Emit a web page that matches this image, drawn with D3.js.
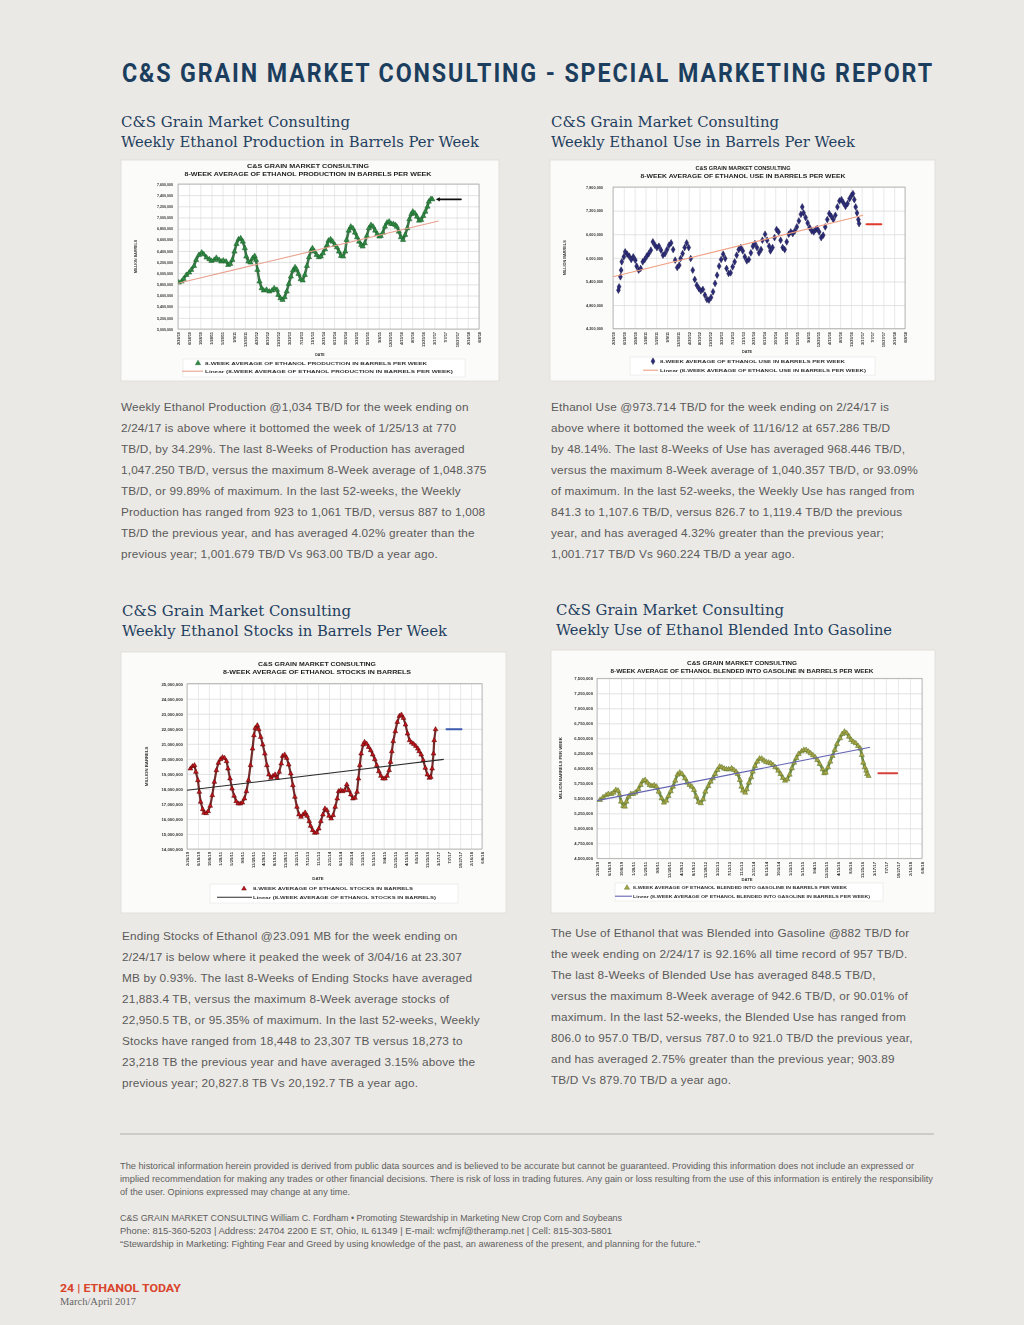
<!DOCTYPE html>
<html><head><meta charset="utf-8">
<script src="https://cdn.jsdelivr.net/npm/d3@7"></script>
<style>
html,body{margin:0;padding:0;background:#ebe9e5;}
svg{display:block;}
</style></head><body>
<svg id="page" width="1024" height="1325"></svg>
<script>
// ---------------- DATA ----------------
const xTickLabels = ["2/26/10","6/18/10","10/8/10","1/28/11","5/20/11","9/9/11","12/30/11","4/20/12","8/10/12","11/30/12","3/22/13","7/12/13","11/1/13","2/21/14","6/13/14","10/3/14","1/23/15","5/15/15","9/4/15","12/25/15","4/15/16","8/5/16","11/25/16","3/17/17","7/7/17","10/27/17","2/16/18","6/8/18"];
const weeksPerLabel = 16;

// [week index from 2/26/10, thousand barrels]
const productionK = [[1,5833],[5,5851],[8,5899],[12,5970],[16,6012],[19,6060],[23,6131],[26,6239],[30,6328],[34,6370],[37,6340],[41,6281],[45,6251],[48,6221],[52,6239],[55,6275],[59,6239],[62,6209],[65,6227],[69,6209],[72,6149],[75,6167],[78,6239],[81,6388],[84,6525],[87,6609],[90,6627],[93,6567],[96,6448],[98,6299],[101,6209],[104,6191],[107,6269],[110,6310],[112,6239],[114,6060],[117,5851],[120,5731],[123,5690],[127,5702],[131,5672],[135,5690],[138,5731],[142,5702],[144,5612],[147,5552],[150,5522],[153,5570],[156,5672],[159,5809],[162,5940],[165,6048],[168,6107],[170,6072],[173,5988],[176,5893],[179,5869],[182,5970],[185,6131],[188,6287],[191,6406],[193,6448],[196,6388],[199,6328],[202,6287],[205,6299],[208,6358],[211,6430],[214,6507],[216,6585],[219,6609],[222,6567],[225,6507],[228,6466],[231,6388],[234,6310],[237,6299],[240,6388],[242,6597],[245,6764],[248,6836],[251,6806],[254,6728],[257,6645],[260,6567],[263,6507],[265,6478],[268,6537],[271,6669],[274,6806],[277,6866],[280,6836],[283,6764],[286,6704],[289,6657],[291,6669],[294,6728],[297,6836],[300,6907],[303,6925],[306,6884],[309,6884],[312,6866],[314,6836],[317,6746],[320,6645],[323,6597],[326,6687],[329,6806],[332,6967],[335,7063],[337,7104],[340,7075],[343,7015],[346,6943],[349,6955],[352,7027],[355,7104],[358,7194],[360,7284],[363,7331],[365,7325]];
const productionTrendK = [[0,5821],[374,6937]];
const productionArrow = [370,406,7325];
const productionYTicks = [5000,5200,5400,5600,5800,6000,6200,6400,6600,6800,7000,7200,7400,7600];

const useK = [[8,5180],[9,5265],[11,5518],[12,5687],[13,5899],[16,6025],[18,6152],[21,6093],[24,6042],[27,5958],[30,6025],[33,5941],[35,5789],[38,5687],[41,5730],[44,5899],[47,5958],[50,6042],[53,6110],[56,6194],[59,6406],[62,6321],[65,6262],[68,6296],[71,6194],[74,6068],[77,6110],[80,6211],[83,6321],[86,6380],[89,6211],[92,5941],[95,5755],[98,5814],[100,5983],[103,6110],[106,6262],[109,6380],[112,6262],[115,5983],[118,5687],[121,5451],[124,5307],[127,5222],[130,5163],[133,5197],[136,5053],[139,4944],[142,4927],[145,4994],[148,5138],[151,5349],[154,5560],[157,5789],[160,5958],[163,6093],[166,5983],[168,5730],[171,5603],[174,5620],[177,5772],[180,5899],[183,6068],[186,6211],[189,6262],[192,6177],[195,6025],[198,5924],[201,5958],[204,6127],[207,6296],[210,6363],[213,6262],[216,6127],[219,6211],[221,6448],[225,6600],[228,6448],[231,6296],[233,6177],[236,6262],[239,6515],[242,6718],[245,6659],[248,6448],[251,6262],[254,6211],[257,6406],[260,6600],[263,6659],[266,6617],[269,6684],[272,6786],[275,6938],[278,7107],[280,7293],[282,7141],[285,7023],[288,6887],[291,6769],[294,6684],[297,6659],[300,6718],[302,6744],[305,6659],[308,6515],[311,6575],[314,6786],[317,6972],[320,7124],[323,7056],[326,6972],[329,7082],[332,7293],[335,7445],[338,7479],[341,7394],[344,7310],[347,7378],[350,7504],[353,7589],[355,7631],[357,7479],[359,7293],[361,7141],[363,6972],[364,6870]];
const useTrendK = [[0,5518],[370,7082]];
const useArrow = [375,397,6854];
const useYTicks = [4200,4800,5400,6000,6600,7200,7800];

const stocksK = [[5,19347],[8,19502],[11,19568],[13,19125],[16,18571],[18,17795],[20,17130],[23,16642],[25,16398],[28,16376],[31,16509],[34,16864],[37,17573],[40,18460],[43,19236],[46,19724],[49,19967],[52,20100],[55,20056],[58,19834],[60,19347],[63,18682],[66,18016],[69,17529],[72,17174],[75,17019],[78,17019],[81,17085],[84,17351],[87,17839],[90,18571],[93,19568],[96,20677],[98,21564],[100,22051],[103,22229],[105,21963],[108,21453],[111,20943],[114,20344],[117,19568],[120,18948],[123,18726],[126,18859],[129,18948],[132,18726],[135,19125],[138,19679],[140,20189],[143,20278],[146,20056],[149,19613],[152,19014],[155,18238],[158,17462],[161,16797],[164,16287],[167,16132],[170,16287],[173,16420],[176,16199],[179,15844],[181,15533],[184,15245],[187,15068],[190,15090],[193,15356],[196,15844],[199,16287],[202,16686],[205,16575],[208,16199],[211,16021],[214,16243],[217,16797],[220,17351],[222,17839],[225,17907],[228,17839],[231,17907],[234,18283],[237,17907],[240,17617],[243,17351],[246,17396],[249,17795],[251,18682],[253,19568],[255,20344],[258,20943],[260,21120],[263,21009],[266,20788],[269,20566],[272,20278],[275,19967],[278,19568],[281,19169],[284,18859],[287,18682],[290,18682],[293,18859],[296,19236],[298,19790],[300,20499],[302,21165],[305,21830],[308,22450],[311,22850],[314,22938],[317,22716],[320,22273],[323,21674],[326,21231],[329,21076],[332,20987],[335,20854],[338,20677],[340,20499],[343,20278],[346,19901],[349,19391],[352,18948],[355,18726],[357,18792],[359,19347],[361,20344],[362,21231],[364,21963]];
const stocksTrendK = [[0,17906],[376,19967]];
const stocksArrow = [380,402,21963];
const stocksYTicks = [14000,15000,16000,17000,18000,19000,20000,21000,22000,23000,24000,25000];

const blendK = [[4,5472],[8,5517],[12,5550],[15,5572],[19,5572],[22,5594],[25,5639],[28,5628],[30,5555],[32,5444],[35,5372],[37,5361],[39,5444],[42,5528],[45,5572],[48,5572],[51,5594],[55,5650],[58,5722],[61,5789],[64,5805],[67,5761],[70,5722],[73,5705],[76,5716],[79,5694],[82,5611],[86,5500],[89,5428],[92,5461],[95,5539],[98,5617],[101,5694],[104,5794],[107,5894],[110,5928],[113,5906],[117,5833],[120,5761],[123,5722],[126,5694],[129,5639],[132,5528],[135,5439],[138,5417],[141,5483],[144,5611],[148,5705],[151,5778],[154,5833],[157,5906],[160,5972],[163,6028],[166,6017],[169,5994],[172,5983],[175,5983],[179,6000],[182,5972],[185,5939],[187,5905],[190,5805],[192,5694],[194,5628],[197,5594],[199,5650],[202,5761],[205,5850],[207,5944],[210,6039],[213,6111],[216,6161],[219,6161],[222,6128],[225,6105],[228,6094],[231,6083],[234,6055],[237,6017],[241,5961],[244,5906],[247,5839],[250,5794],[253,5817],[256,5894],[259,6000],[262,6094],[265,6172],[268,6239],[272,6283],[275,6306],[278,6306],[281,6278],[284,6250],[287,6217],[290,6183],[293,6139],[296,6072],[300,5983],[302,5917],[304,5928],[307,6017],[310,6111],[313,6206],[316,6306],[319,6406],[323,6500],[326,6572],[329,6611],[332,6583],[335,6528],[338,6472],[341,6439],[344,6417],[347,6372],[350,6328],[352,6222],[354,6094],[356,6017],[358,5961],[359,5906],[361,5872]];
const blendTrendK = [[0,5461],[363,6350]];
const blendArrow = [374,399,5917];
const blendYTicks = [4500,4750,5000,5250,5500,5750,6000,6250,6500,6750,7000,7250,7500];

// ---------------- TEXT CONTENT ----------------
const headerText = "C&S GRAIN MARKET CONSULTING - SPECIAL MARKETING REPORT";
const sectionTitles = [
  ["C&S Grain Market Consulting","Weekly Ethanol Production in Barrels Per Week"],
  ["C&S Grain Market Consulting","Weekly Ethanol Use in Barrels Per Week"],
  ["C&S Grain Market Consulting","Weekly Ethanol Stocks in Barrels Per Week"],
  ["C&S Grain Market Consulting","Weekly Use of Ethanol Blended Into Gasoline"]
];
const paragraphs = [
  ["Weekly Ethanol Production @1,034 TB/D for the week ending on",
   "2/24/17 is above where it bottomed the week of 1/25/13 at 770",
   "TB/D, by 34.29%. The last 8-Weeks of Production has averaged",
   "1,047.250 TB/D, versus the maximum 8-Week average of 1,048.375",
   "TB/D, or 99.89% of maximum. In the last 52-weeks, the Weekly",
   "Production has ranged from 923 to 1,061 TB/D, versus 887 to 1,008",
   "TB/D the previous year, and has averaged 4.02% greater than the",
   "previous year; 1,001.679 TB/D Vs 963.00 TB/D a year ago."],
  ["Ethanol Use @973.714 TB/D for the week ending on 2/24/17 is",
   "above where it bottomed the week of 11/16/12 at 657.286 TB/D",
   "by 48.14%. The last 8-Weeks of Use has averaged 968.446 TB/D,",
   "versus the maximum 8-Week average of 1,040.357 TB/D, or 93.09%",
   "of maximum. In the last 52-weeks, the Weekly Use has ranged from",
   "841.3 to 1,107.6 TB/D, versus 826.7 to 1,119.4 TB/D the previous",
   "year, and has averaged 4.32% greater than the previous year;",
   "1,001.717 TB/D Vs 960.224 TB/D a year ago."],
  ["Ending Stocks of Ethanol @23.091 MB for the week ending on",
   "2/24/17 is below where it peaked the week of 3/04/16 at 23.307",
   "MB by 0.93%. The last 8-Weeks of Ending Stocks have averaged",
   "21,883.4 TB, versus the maximum 8-Week average stocks of",
   "22,950.5 TB, or 95.35% of maximum. In the last 52-weeks, Weekly",
   "Stocks have ranged from 18,448 to 23,307 TB versus 18,273 to",
   "23,218 TB the previous year and have averaged 3.15% above the",
   "previous year; 20,827.8 TB Vs 20,192.7 TB a year ago."],
  ["The Use of Ethanol that was Blended into Gasoline @882 TB/D for",
   "the week ending on 2/24/17 is 92.16% all time record of 957 TB/D.",
   "The last 8-Weeks of Blended Use has averaged 848.5 TB/D,",
   "versus the maximum 8-Week average of 942.6 TB/D, or 90.01% of",
   "maximum. In the last 52-weeks, the Blended Use has ranged from",
   "806.0 to 957.0 TB/D, versus 787.0 to 921.0 TB/D the previous year,",
   "and has averaged 2.75% greater than the previous year; 903.89",
   "TB/D Vs 879.70 TB/D a year ago."]
];
const footerLines = [
  "The historical information herein provided is derived from public data sources and is believed to be accurate but cannot be guaranteed. Providing this information does not include an expressed or",
  "implied recommendation for making any trades or other financial decisions. There is risk of loss in trading futures. Any gain or loss resulting from the use of this information is entirely the responsibility",
  "of the user. Opinions expressed may change at any time.",
  "C&S GRAIN MARKET CONSULTING William C. Fordham \u2022 Promoting Stewardship in Marketing New Crop Corn and Soybeans",
  "Phone: 815-360-5203 | Address: 24704 2200 E ST, Ohio, IL 61349 | E-mail: wcfmjf@theramp.net | Cell: 815-303-5801",
  "\u201CStewardship in Marketing: Fighting Fear and Greed by using knowledge of the past, an awareness of the present, and planning for the future.\u201D"
];

// ---------------- DRAWING ----------------
const svg = d3.select("#page");
const CF = "'Liberation Sans', Arial, sans-serif";
const tickWeeks = xTickLabels.map((_, i) => i * weeksPerLabel);

const defs = svg.append("defs");
defs.append("filter").attr("id","soft").attr("x","-5%").attr("y","-5%").attr("width","110%").attr("height","110%")
  .append("feGaussianBlur").attr("stdDeviation",0.35);

const charts = [
  { series: productionK, trend: productionTrendK, arrow: productionArrow, yTicks: productionYTicks,
    title2: "8-WEEK AVERAGE OF ETHANOL PRODUCTION IN BARRELS PER WEEK", yTitle: "MILLION BARRELS",
    leg1: "8-WEEK AVERAGE OF ETHANOL PRODUCTION IN BARRELS PER WEEK",
    leg2: "Linear (8-WEEK AVERAGE OF ETHANOL PRODUCTION IN BARRELS PER WEEK)",
    symbol: d3.symbolTriangle, symSize: 12, fill: "#2f8a43", stroke: "#1d5e2b", band: 2.6,
    trendColor: "#e8a08e", arrowColor: "#111", arrowHead: true,
    L: { box:[121,160,378,221], l:178, r:479, t:184, b:329, tY:[168,176], tCx:308, tW:[122,247], tFs:4.6,
         yLab:173, yFs:3.6, yTitleX:137, xLab:332, xFs:3.9, dateX:320, dateY:356,
         leg:[183,359,282,18], l1Y:364.5, l2Y:372.5, mX:198, lnX:[182,203], txX:205, txW:[222,248], lFs:4 } },
  { series: useK, trend: useTrendK, arrow: useArrow, yTicks: useYTicks,
    title2: "8-WEEK AVERAGE OF ETHANOL USE IN BARRELS PER WEEK", yTitle: "MILLION BARRELS",
    leg1: "8-WEEK AVERAGE OF ETHANOL USE IN BARRELS PER WEEK",
    leg2: "Linear (8-WEEK AVERAGE OF ETHANOL USE IN BARRELS PER WEEK)",
    symbol: d3.symbolDiamond, symSize: 13, fill: "#2c2c78", stroke: "#1a1a4a", band: 0,
    trendColor: "#ef9f82", arrowColor: "#e03a2a", arrowHead: false,
    L: { box:[550,160,385,221], l:613, r:905, t:187, b:328.7, tY:[170,178], tCx:743, tW:[95,205], tFs:4.6,
         yLab:603, yFs:3.8, yTitleX:566, xLab:332, xFs:3.9, dateX:747, dateY:353,
         leg:[630,357,245,18], l1Y:362.5, l2Y:371.5, mX:653, lnX:[643,658], txX:660, txW:[185,206], lFs:4 } },
  { series: stocksK, trend: stocksTrendK, arrow: stocksArrow, yTicks: stocksYTicks,
    title2: "8-WEEK AVERAGE OF ETHANOL STOCKS IN BARRELS", yTitle: "MILLION BARRELS",
    leg1: "8-WEEK AVERAGE OF ETHANOL STOCKS IN BARRELS",
    leg2: "Linear (8-WEEK AVERAGE OF ETHANOL STOCKS IN BARRELS)",
    symbol: d3.symbolTriangle, symSize: 10, fill: "#c0141c", stroke: "#5a0808", band: 2.2,
    trendColor: "#2a2a2a", arrowColor: "#3a5cb0", arrowHead: false,
    L: { box:[121,652,385,261], l:187, r:482, t:683.7, b:849, tY:[666,674], tCx:317, tW:[118,188], tFs:4.8,
         yLab:183, yFs:4.3, yTitleX:148, xLab:852, xFs:4.2, dateX:318, dateY:880,
         leg:[210,884,248,19], l1Y:890, l2Y:898.5, mX:244, lnX:[217,252], txX:253, txW:[160,183], lFs:4.2 } },
  { series: blendK, trend: blendTrendK, arrow: blendArrow, yTicks: blendYTicks,
    title2: "8-WEEK AVERAGE OF ETHANOL BLENDED INTO GASOLINE IN BARRELS PER WEEK", yTitle: "MILLION BARRELS PER WEEK",
    leg1: "8-WEEK AVERAGE OF ETHANOL BLENDED INTO GASOLINE IN BARRELS PER WEEK",
    leg2: "Linear (8-WEEK AVERAGE OF ETHANOL BLENDED INTO GASOLINE IN BARRELS PER WEEK)",
    symbol: d3.symbolTriangle, symSize: 12, fill: "#aaa244", stroke: "#55782c", band: 2.6,
    trendColor: "#6464b4", arrowColor: "#d8403a", arrowHead: false,
    L: { box:[551,650,384,263], l:597, r:922, t:678.3, b:858.3, tY:[665,673], tCx:742, tW:[110,263], tFs:4.6,
         yLab:593, yFs:4.2, yTitleX:562, xLab:862, xFs:4.2, dateX:747, dateY:881,
         leg:[615,883,268,18], l1Y:889, l2Y:897.5, mX:627, lnX:[615,632], txX:633, txW:[214,237], lFs:4 } }
];

function drawChart(c, idx) {
  const L = c.L;
  svg.append("rect").attr("x",L.box[0]).attr("y",L.box[1]).attr("width",L.box[2]).attr("height",L.box[3])
    .attr("fill","#fbfbfa").attr("stroke","#dedcd8").attr("stroke-width",0.8);
  const g = svg.append("g").attr("filter","url(#soft)");
  const x = d3.scaleLinear().domain([0, tickWeeks[tickWeeks.length-1]]).range([L.l, L.r]);
  const y = d3.scaleLinear().domain(d3.extent(c.yTicks)).range([L.b, L.t]);
  const W = L.r - L.l, H = L.b - L.t;
  g.append("rect").attr("x",L.l).attr("y",L.t).attr("width",W).attr("height",H).attr("fill","#ffffff");

  const gy = g.append("g").attr("transform",`translate(${L.l},0)`)
    .call(d3.axisLeft(y).tickValues(c.yTicks).tickSize(-W).tickFormat(""));
  gy.select(".domain").remove();
  gy.selectAll("line").attr("stroke","#cfcfcf").attr("stroke-width",0.6);
  const gx = g.append("g").attr("transform",`translate(0,${L.b})`)
    .call(d3.axisBottom(x).tickValues(tickWeeks).tickSize(-H).tickFormat(""));
  gx.select(".domain").remove();
  gx.selectAll("line").attr("stroke","#dadada").attr("stroke-width",0.6);
  g.append("rect").attr("x",L.l).attr("y",L.t).attr("width",W).attr("height",H)
    .attr("fill","none").attr("stroke","#a5a5a5").attr("stroke-width",0.7);

  // chart title
  g.append("text").attr("x",L.tCx).attr("y",L.tY[0]).attr("text-anchor","middle")
    .attr("font-family",CF).attr("font-weight","bold").attr("font-size",L.tFs).attr("fill","#222")
    .attr("textLength",L.tW[0]).attr("lengthAdjust","spacingAndGlyphs").text("C&S GRAIN MARKET CONSULTING");
  g.append("text").attr("x",L.tCx).attr("y",L.tY[1]).attr("text-anchor","middle")
    .attr("font-family",CF).attr("font-weight","bold").attr("font-size",L.tFs).attr("fill","#222")
    .attr("textLength",L.tW[1]).attr("lengthAdjust","spacingAndGlyphs").text(c.title2);

  // y tick labels
  const ya = g.append("g").attr("transform",`translate(${L.l},0)`)
    .call(d3.axisLeft(y).tickValues(c.yTicks).tickSize(0).tickPadding(L.l - L.yLab)
      .tickFormat(d => d3.format(",")(d * 1000)));
  ya.select(".domain").remove();
  ya.selectAll("text").attr("font-family",CF).attr("font-weight","bold").attr("font-size",L.yFs).attr("fill","#333");

  // x tick labels
  const xa = g.append("g").attr("transform",`translate(0,${L.b})`)
    .call(d3.axisBottom(x).tickValues(tickWeeks).tickSize(0).tickFormat((d,i) => xTickLabels[i]));
  xa.select(".domain").remove();
  xa.selectAll("text").attr("transform","rotate(-90)").attr("x",-(L.xLab - L.b)).attr("y",0)
    .attr("dy","0.35em").attr("text-anchor","end")
    .attr("font-family",CF).attr("font-weight","bold").attr("font-size",L.xFs).attr("fill","#333");

  // axis titles
  g.append("text").attr("transform",`translate(${L.yTitleX},${(L.t+L.b)/2}) rotate(-90)`).attr("text-anchor","middle")
    .attr("font-family",CF).attr("font-weight","bold").attr("font-size",L.yFs).attr("fill","#333").text(c.yTitle);
  g.append("text").attr("x",L.dateX).attr("y",L.dateY).attr("text-anchor","middle")
    .attr("font-family",CF).attr("font-weight","bold").attr("font-size",L.yFs).attr("fill","#333").text("DATE");

  // series
  const cid = "clip" + idx;
  defs.append("clipPath").attr("id",cid).append("rect").attr("x",L.l).attr("y",L.t).attr("width",W).attr("height",H);
  const sg = g.append("g").attr("clip-path",`url(#${cid})`);
  if (c.band > 0) {
    sg.append("path").datum(c.series).attr("d", d3.line().x(d => x(d[0])).y(d => y(d[1])))
      .attr("fill","none").attr("stroke",c.stroke).attr("stroke-width",c.band).attr("stroke-linejoin","round").attr("opacity",0.85);
  }
  const sym = d3.symbol(c.symbol, c.symSize);
  sg.selectAll("path.pt").data(c.series).join("path").attr("class","pt")
    .attr("d", sym).attr("transform", d => `translate(${x(d[0])},${y(d[1])})`)
    .attr("fill", c.fill).attr("stroke", c.stroke).attr("stroke-width", 0.5);
  // trend
  sg.append("path").datum(c.trend)
    .attr("d", d3.line().x(d => x(d[0])).y(d => y(d[1])))
    .attr("fill","none").attr("stroke",c.trendColor).attr("stroke-width",1.1);
  // arrow
  const ax1 = x(c.arrow[0]), ax2 = x(c.arrow[1]), ay = y(c.arrow[2]);
  g.append("line").attr("x1",c.arrowHead ? ax1+3 : ax1).attr("x2",ax2).attr("y1",ay).attr("y2",ay)
    .attr("stroke",c.arrowColor).attr("stroke-width",c.arrowHead ? 1.8 : 2).attr("stroke-linecap","round");
  if (c.arrowHead) g.append("path").attr("d",`M${ax1},${ay}L${ax1+4},${ay-2.2}L${ax1+4},${ay+2.2}Z`).attr("fill",c.arrowColor);

  // legend
  g.append("rect").attr("x",L.leg[0]).attr("y",L.leg[1]).attr("width",L.leg[2]).attr("height",L.leg[3])
    .attr("fill","#fff").attr("stroke","#e0e0e0").attr("stroke-width",0.5);
  g.append("path").attr("d", d3.symbol(c.symbol, c.symSize)).attr("transform",`translate(${L.mX},${L.l1Y-1.3})`)
    .attr("fill",c.fill).attr("stroke",c.stroke).attr("stroke-width",0.45);
  g.append("line").attr("x1",L.lnX[0]).attr("x2",L.lnX[1]).attr("y1",L.l2Y-1.3).attr("y2",L.l2Y-1.3)
    .attr("stroke",c.trendColor).attr("stroke-width",1.1);
  g.append("text").attr("x",L.txX).attr("y",L.l1Y).attr("font-family",CF).attr("font-weight","bold")
    .attr("font-size",L.lFs).attr("fill","#333").attr("textLength",L.txW[0]).attr("lengthAdjust","spacingAndGlyphs").text(c.leg1);
  g.append("text").attr("x",L.txX).attr("y",L.l2Y).attr("font-family",CF).attr("font-weight","bold")
    .attr("font-size",L.lFs).attr("fill","#333").attr("textLength",L.txW[1]).attr("lengthAdjust","spacingAndGlyphs").text(c.leg2);
}

// header
svg.append("text").attr("x",122).attr("y",82).attr("font-family","Roboto, 'Liberation Sans', sans-serif")
  .attr("font-weight",700).attr("font-size",25).attr("fill","#1c3e5e").attr("letter-spacing",2)
  .attr("textLength",812).attr("lengthAdjust","spacingAndGlyphs").text(headerText);

// section titles
const titlePos = [[121,127,[229,358]],[551,127,[228,304]],[122,616,[229,325]],[556,615,[228,336]]];
sectionTitles.forEach((t, i) => {
  const [tx, ty, tw] = titlePos[i];
  t.forEach((line, j) => {
    svg.append("text").attr("x",tx).attr("y",ty + j*20).attr("font-family","'DejaVu Serif','Liberation Serif',serif")
      .attr("font-size",15.5).attr("fill","#1f3f60").attr("textLength",tw[j]).attr("lengthAdjust","spacingAndGlyphs").text(line);
  });
});

// paragraphs
const paraPos = [[121,411],[551,411],[122,940],[551,937]];
paragraphs.forEach((p, i) => {
  const [px, py] = paraPos[i];
  p.forEach((line, j) => {
    svg.append("text").attr("x",px).attr("y",py + j*21).attr("font-family","'Liberation Sans',Arial,sans-serif")
      .attr("font-size",11.8).attr("letter-spacing",0.15).attr("fill","#5a5a5a").text(line);
  });
});

charts.forEach(drawChart);

// footer rule
svg.append("line").attr("x1",120).attr("x2",934).attr("y1",1134).attr("y2",1134).attr("stroke","#cfccc7").attr("stroke-width",2);
const footerY = [1169,1182,1195,1221,1234,1247];
const footerW = [794,813,230,502,492,580];
footerLines.forEach((t, i) => {
  svg.append("text").attr("x",120).attr("y",footerY[i])
    .attr("font-family","'Liberation Sans Narrow','Liberation Sans',Arial,sans-serif")
    .attr("font-size",8.6).attr("fill","#5e5e5e").attr("textLength",footerW[i]).attr("lengthAdjust","spacingAndGlyphs").text(t);
});

svg.append("text").attr("x",60).attr("y",1292).attr("font-family","Roboto,'Liberation Sans',sans-serif")
  .attr("font-weight",700).attr("font-size",10).attr("fill","#d8442c")
  .attr("textLength",121).attr("lengthAdjust","spacingAndGlyphs").text("24 | ETHANOL TODAY");
svg.append("text").attr("x",60).attr("y",1305).attr("font-family","'Liberation Serif',serif")
  .attr("font-size",10.5).attr("fill","#666").text("March/April 2017");
</script>
</body></html>
